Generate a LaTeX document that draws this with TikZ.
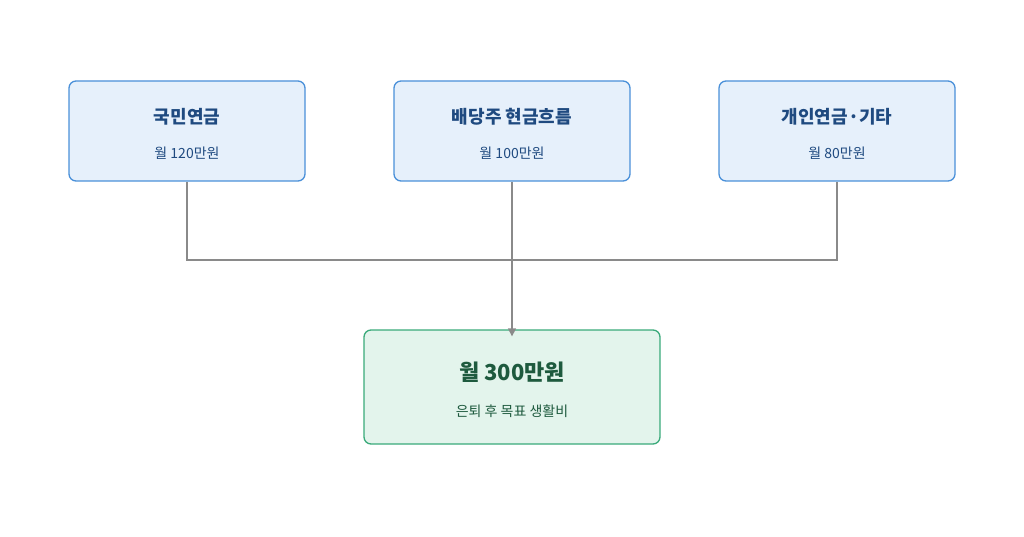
\documentclass[tikz,border=0pt]{standalone}
\usepackage{fontspec}
\newfontfamily\cjk{Noto Sans CJK KR}
\usetikzlibrary{arrows.meta}
\definecolor{tb}{HTML}{E6F0FB}\definecolor{tbd}{HTML}{4A90D9}\definecolor{tt}{HTML}{1F4A80}
\definecolor{gb}{HTML}{E3F4EC}\definecolor{gbd}{HTML}{3AAA7A}\definecolor{gt}{HTML}{1E5A3E}
\definecolor{ln}{HTML}{8A8A8A}
\begin{document}
\begin{tikzpicture}[x=1pt,y=-1pt,
 top/.style={draw=tbd,fill=tb,rounded corners=7pt,line width=1.3pt,minimum width=236pt,minimum height=100pt},
 bot/.style={draw=gbd,fill=gb,rounded corners=7pt,line width=1.3pt,minimum width=296pt,minimum height=114pt},
 ttl/.style={font=\cjk\fontsize{18}{20}\selectfont\bfseries,text=tt},
 sub/.style={font=\cjk\fontsize{14}{16}\selectfont,text=tt},
 con/.style={draw=ln,line width=1.3pt}]
\useasboundingbox (0,0) rectangle (1024,537);
\node[top] (a) at (187,131) {};
\node[top] (b) at (512,131) {};
\node[top] (c) at (837,131) {};
\node[bot] (d) at (512,387) {};
\node[ttl] at (187,117) {국민연금};
\node[sub] at (187,153) {월 120만원};
\node[ttl] at (512,117) {배당주 현금흐름};
\node[sub] at (512,153) {월 100만원};
\node[ttl] at (837,117) {개인연금·기타};
\node[sub] at (837,153) {월 80만원};
\node[ttl,text=gt,font=\cjk\fontsize{22}{24}\selectfont\bfseries] at (512,372) {월 300만원};
\node[sub,text=gt] at (512,411) {은퇴 후 목표 생활비};
\coordinate (j) at (512,260);
\draw[con] (a.south) |- (j);
\draw[con] (c.south) |- (j);
\draw[con] (b.south) -- (j);
\draw[con,-{Triangle[length=8pt,width=8pt]}] (j) -- ([yshift=-7pt]d.north);
\end{tikzpicture}
\end{document}
